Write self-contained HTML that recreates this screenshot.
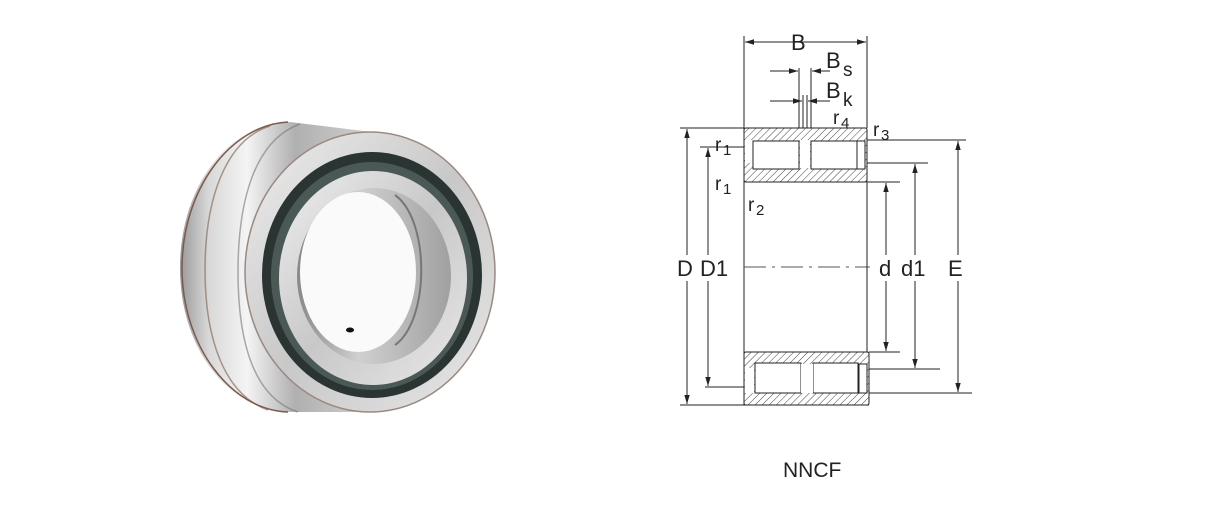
<!DOCTYPE html>
<html><head><meta charset="utf-8"><style>
html,body{margin:0;padding:0;background:#fff;}
svg{display:block}
text{font-family:"Liberation Sans",Arial,sans-serif;fill:#222}
</style></head><body>
<svg width="1208" height="509" viewBox="0 0 1208 509" xmlns="http://www.w3.org/2000/svg">
<defs>
<pattern id="h" width="5" height="5" patternUnits="userSpaceOnUse" patternTransform="rotate(45)">
<rect width="5" height="5" fill="#fff"/><line x1="0" y1="0" x2="0" y2="5" stroke="#444" stroke-width="1"/>
</pattern>
<marker id="a" viewBox="0 0 10 10" refX="10" refY="5" markerWidth="9" markerHeight="9" orient="auto-start-reverse" markerUnits="userSpaceOnUse">
<path d="M0,2 L10,5 L0,8 z" fill="#222"/></marker>
<linearGradient id="g1" x1="0" y1="0" x2="1" y2="0">
<stop offset="0" stop-color="#9a9a9a"/><stop offset="0.15" stop-color="#d8d8d8"/><stop offset="0.35" stop-color="#f4f4f4"/><stop offset="0.6" stop-color="#b0b0b0"/><stop offset="1" stop-color="#d0d0d0"/></linearGradient>
<linearGradient id="g2" x1="0" y1="0" x2="1" y2="1">
<stop offset="0" stop-color="#eeeeee"/><stop offset="0.5" stop-color="#c8c8c8"/><stop offset="1" stop-color="#e8e8e8"/></linearGradient>
<linearGradient id="g3" x1="0" y1="0" x2="1" y2="0">
<stop offset="0" stop-color="#888"/><stop offset="0.4" stop-color="#d0d0d0"/><stop offset="1" stop-color="#a0a0a0"/></linearGradient>
</defs>

<!-- Photo bearing -->
<path d="M290,122 L372,132 L372,412 L290,412 C230,412 180,350 180,268 C180,185 230,122 290,122 Z" fill="url(#g1)"/>
<path d="M270,126 C225,140 205,200 205,270 C205,340 225,395 268,410" fill="none" stroke="#8a7060" stroke-width="1.5" opacity="0.7"/>
<path d="M300,124 C255,140 238,200 238,272 C238,345 255,398 298,412" fill="none" stroke="#777" stroke-width="1.5" opacity="0.6"/>
<path d="M288,122 C230,125 182,190 182,268 C182,345 230,410 288,412" fill="none" stroke="#7a5a4a" stroke-width="1.5"/>
<ellipse cx="370" cy="272" rx="125" ry="140" fill="url(#g2)" stroke="#9a8a80" stroke-width="1.5"/>
<ellipse cx="372" cy="275" rx="110" ry="123" fill="#2a3433" />
<ellipse cx="372" cy="276" rx="101" ry="114" fill="#4a5856"/>
<ellipse cx="373" cy="278" rx="94" ry="107" fill="url(#g2)"/>
<ellipse cx="374" cy="276" rx="77" ry="88" fill="url(#g3)"/>
<ellipse cx="358" cy="272" rx="58" ry="80" fill="#fafafa"/>
<path d="M395,195 C430,220 430,320 395,345" fill="none" stroke="#777" stroke-width="2"/>
<ellipse cx="350" cy="330" rx="4" ry="2.5" fill="#111"/>

<!-- Drawing -->
<g stroke="#222" stroke-width="1" fill="none">
<line x1="744" y1="36" x2="744" y2="405"/>
<line x1="867" y1="36" x2="867" y2="128"/>
<line x1="680" y1="128" x2="744" y2="128"/>
<line x1="680" y1="405" x2="869" y2="405"/>
<line x1="700" y1="147" x2="744" y2="147"/>
<line x1="705" y1="387" x2="744" y2="387"/>
<line x1="867" y1="140" x2="966" y2="140"/>
<line x1="867" y1="163" x2="928" y2="163"/>
<line x1="867" y1="182" x2="900" y2="182"/>
<line x1="869" y1="352" x2="900" y2="352"/>
<line x1="869" y1="369" x2="940" y2="369"/>
<line x1="869" y1="393" x2="972" y2="393"/>
<line x1="799" y1="68" x2="799" y2="128"/>
<line x1="811" y1="68" x2="811" y2="128"/>
<line x1="803" y1="95" x2="803" y2="128"/>
<line x1="807" y1="95" x2="807" y2="128"/>
<line x1="745" y1="42" x2="866" y2="42" marker-start="url(#a)" marker-end="url(#a)"/>
<line x1="770" y1="71" x2="798" y2="71" marker-end="url(#a)"/>
<line x1="830" y1="71" x2="812" y2="71" marker-end="url(#a)"/>
<line x1="770" y1="101" x2="802" y2="101" marker-end="url(#a)"/>
<line x1="830" y1="101" x2="808" y2="101" marker-end="url(#a)"/>
<line x1="687" y1="129" x2="687" y2="404" marker-start="url(#a)" marker-end="url(#a)"/>
<line x1="708" y1="148" x2="708" y2="386" marker-start="url(#a)" marker-end="url(#a)"/>
<line x1="886" y1="183" x2="886" y2="351" marker-start="url(#a)" marker-end="url(#a)"/>
<line x1="915" y1="164" x2="915" y2="368" marker-start="url(#a)" marker-end="url(#a)"/>
<line x1="958" y1="141" x2="958" y2="392" marker-start="url(#a)" marker-end="url(#a)"/>
<line x1="744" y1="267" x2="870" y2="267" stroke-dasharray="22,6,3,6" stroke="#555"/>
<line x1="867" y1="182" x2="867" y2="352"/>
</g>
<rect x="682" y="255" width="60" height="26" fill="#fff"/>
<rect x="876" y="255" width="92" height="26" fill="#fff"/>

<g stroke="#222" stroke-width="1">
<path d="M746,128 H865 Q867,128 867,130 V180 Q867,182 865,182 H746 Q744,182 744,180 V130 Q744,128 746,128 Z" fill="url(#h)"/>
<rect x="745" y="140" width="8" height="23" fill="#fff" stroke="none"/>
<rect x="753" y="141" width="46" height="28" fill="#fff"/>
<rect x="811" y="141" width="46" height="28" fill="#fff"/>
<rect x="800" y="140" width="10" height="28" fill="#fff" stroke="none"/>
<rect x="857" y="141" width="8" height="28" fill="#fff"/>
<path d="M746,352 H867 Q869,352 869,354 V403 Q869,405 867,405 H746 Q744,405 744,403 V354 Q744,352 746,352 Z" fill="url(#h)"/>
<rect x="745" y="368" width="9" height="25" fill="#fff" stroke="none"/>
<rect x="755" y="363" width="46" height="30" fill="#fff"/>
<rect x="813" y="363" width="45" height="30" fill="#fff"/>
<rect x="801" y="364" width="12" height="29" fill="#fff" stroke="none"/>
<rect x="859" y="364" width="8" height="29" fill="#fff"/>
</g>

<g font-size="22">
<text x="791" y="50">B</text>
<text x="826" y="68">B</text><text x="843" y="76" font-size="19">s</text>
<text x="826" y="98">B</text><text x="843" y="106" font-size="19">k</text>
<text x="833" y="124" font-size="19">r</text><text x="841" y="128" font-size="15">4</text>
<text x="873" y="136" font-size="19">r</text><text x="881" y="140" font-size="15">3</text>
<text x="715" y="151" font-size="19">r</text><text x="723" y="155" font-size="15">1</text>
<text x="715" y="190" font-size="19">r</text><text x="723" y="194" font-size="15">1</text>
<text x="748" y="211" font-size="19">r</text><text x="756" y="215" font-size="15">2</text>
<text x="677" y="276">D</text><text x="700" y="276">D1</text>
<text x="879" y="276">d</text><text x="901" y="276">d1</text>
<text x="948" y="276">E</text>
<text x="783" y="477" font-size="21">NNCF</text>
</g>
</svg>
</body></html>
